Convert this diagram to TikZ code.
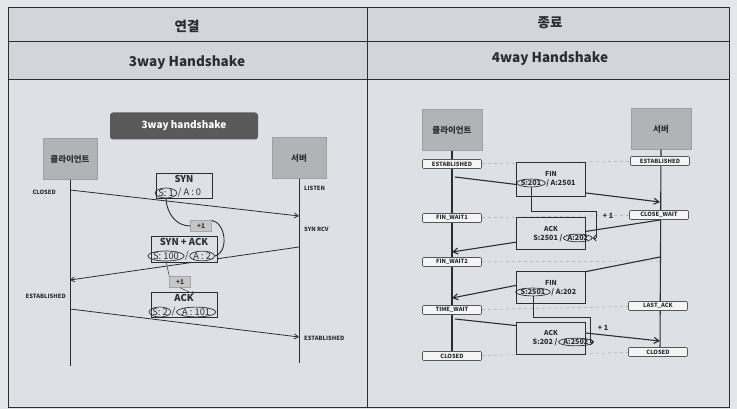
\documentclass[tikz,border=0pt]{standalone}
\usepackage{fontspec}
\setmainfont{Noto Sans CJK KR}
\usetikzlibrary{positioning,arrows.meta,shapes.geometric}

\definecolor{pagebg}{HTML}{E4E7EA}
\definecolor{headbg}{HTML}{D2D6DA}
\definecolor{bodybg}{HTML}{DDE1E5}
\definecolor{hostfill}{HTML}{B1B4B7}
\definecolor{ink}{HTML}{2B2D30}

\begin{document}
\begin{tikzpicture}[x=1pt, y=-1pt,
    grid/.style={draw=ink, line width=0.8pt},
    head/.style={font=\bfseries\fontsize{13.5}{15}\selectfont, text=ink},
    host/.style={draw=gray!75, fill=hostfill, minimum width=54pt, minimum height=41pt,
        font=\bfseries\fontsize{8.5}{9}\selectfont, text=ink},
    life/.style={draw=ink, line width=0.9pt},
    msg/.style={draw=ink, line width=0.8pt, fill=bodybg, inner sep=0pt},
    ttl/.style={font=\bfseries\fontsize{9.5}{10}\selectfont, text=ink, inner sep=0pt},
    seq/.style={font=\fontsize{9.3}{10}\selectfont, text=ink, inner sep=0.4pt},
    ell/.style={ellipse, draw=ink, line width=0.7pt, inner sep=0pt},
    plus/.style={draw=gray!70, fill=gray!45, minimum width=21pt, minimum height=11pt,
        inner sep=0pt, font=\bfseries\fontsize{6.5}{7}\selectfont, text=ink},
    lbl/.style={font=\bfseries\fontsize{5.8}{6}\selectfont, text=ink, inner sep=0pt},
    mv/.style={draw=ink, line width=0.8pt, -{Straight Barb[length=4pt,width=5pt]}},
    stbox/.style={draw=ink!80, fill=gray!8, rounded corners=1pt, line width=0.6pt,
        minimum width=59pt, minimum height=9pt, inner sep=0pt,
        font=\bfseries\fontsize{5.8}{6}\selectfont, text=ink},
    rmv/.style={draw=ink, line width=1.1pt, -{Straight Barb[length=5pt,width=6pt]}},
    rttl/.style={font=\bfseries\fontsize{6.8}{7}\selectfont, text=ink, inner sep=0pt},
    rseq/.style={font=\bfseries\fontsize{7.2}{8}\selectfont, text=ink, inner sep=0.4pt},
    hint/.style={draw=gray!70, dashed, line width=0.5pt},
    elb/.style={draw=ink, line width=0.9pt}]

    % table
    \fill[pagebg] (0,0) rectangle (737,409);
    \fill[headbg] (8,7) rectangle (729,79);
    \fill[bodybg] (8,79) rectangle (729,409);
    \draw[grid] (8,7) -- (729,7);
    \draw[grid] (8,41) -- (729,41);
    \draw[grid] (8,79) -- (729,79);
    \draw[grid] (8,7) -- (8,407) -- (729,407) -- (729,7);
    \draw[grid] (367,7) -- (367,407);
    \node[head] (h1) at (187,26) {연결};
    \node[head] (h2) at (550,23) {종료};
    \node[head] (h3) at (187,63) {3way Handshake};
    \node[head] (h4) at (550,59) {4way Handshake};

    % 3way handshake
    \node[fill=gray!70!black, rounded corners=3pt, minimum width=148pt, minimum height=27pt,
        font=\bfseries\fontsize{10}{11}\selectfont, text=white] (tag) at (184,126) {3way handshake};
    \node[host] (cli) at (70,159) {클라이언트};
    \node[host] (srv) at (299,158) {서버};
    \coordinate (cliend) at (70,366);
    \coordinate (srvend) at (299,363);
    \draw[life] (cli.south) -- (cliend);
    \draw[life] (srv.south) -- (srvend);

    \coordinate (m1a) at (70,190);  \coordinate (m1b) at (299,216);
    \coordinate (m2a) at (299,247); \coordinate (m2b) at (70,280);
    \coordinate (m3a) at (70,309);  \coordinate (m3b) at (299,337);
    \draw[mv] (m1a) -- (m1b);
    \draw[mv] (m2a) -- (m2b);
    \draw[mv] (m3a) -- (m3b);

    \node[lbl, anchor=east] (lclosed) at (56,192) {CLOSED};
    \node[lbl, anchor=west] (llisten) at (304,188) {LISTEN};
    \node[lbl, anchor=west] (lsynrcv) at (304,229) {SYN RCV};
    \node[lbl, anchor=east] (lestc) at (66,296) {ESTABLISHED};
    \node[lbl, anchor=west] (lests) at (304,338) {ESTABLISHED};

    \node[msg, minimum width=56pt, minimum height=25pt] (syn) at (184,186) {};
    \node[ttl] (synt) at (184,179) {SYN};
    \node[seq, ell] (s1) at (166,193) {S: 1};
    \node[seq, right=0pt of s1] (a0) {/ A : 0};

    \node[msg, minimum width=66pt, minimum height=26pt] (synack) at (184,249) {};
    \node[ttl] (synackt) at (184,242) {SYN + ACK};
    \node[seq, ell] (s100) at (166,256) {S: 100};
    \node[seq, right=0pt of s100] (sl2) {/};
    \node[seq, ell, right=0pt of sl2] (a2) {A : 2};

    \node[msg, minimum width=66pt, minimum height=25pt] (ack) at (184,305) {};
    \node[ttl] (ackt) at (184,298) {ACK};
    \node[seq, ell] (s2) at (160,312) {S: 2};
    \node[seq, right=0pt of s2] (sl3) {/};
    \node[seq, ell, right=0pt of sl3] (a101) {A : 101};

    \node[plus] (inc1) at (201,226) {+1};
    \node[plus] (inc2) at (180,282) {+1};
    \draw[ink, line width=0.9pt] (s1.south) .. controls (167,215) and (177,226) .. (inc1.west);
    \draw[ink, line width=0.9pt] (inc1.north east) .. controls (226,223) and (229,252) .. (a2.east);
    \draw[gray!60!black, line width=0.6pt] (s100.south) -- (inc2.north west);
    \draw[gray!60!black, line width=0.6pt, -{Straight Barb[length=2pt]}] (inc2.south) -- (ackt.north east);

    % 4way handshake
    \node[host, minimum width=60pt] (rcli) at (452,130) {클라이언트};
    \node[host, minimum width=60pt] (rsrv) at (661,129) {서버};
    \coordinate (rcliend) at (452,354);
    \coordinate (rsrvend) at (660,354);
    \coordinate (fw2end) at (660,261);
    \draw[life, line width=1.1pt] (rcli.south) -- (rcliend);
    \draw[life, line width=1.1pt] (rsrv.south) -- (rsrvend);

    \node[stbox] (cest) at (452,164) {ESTABLISHED};
    \node[stbox] (sest) at (660,161) {ESTABLISHED};
    \node[stbox] (fw1) at (452,218) {FIN\_WAIT1};
    \node[stbox] (cw) at (659,215) {CLOSE\_WAIT};
    \node[stbox] (fw2) at (452,262) {FIN\_WAIT2};
    \node[stbox] (tw) at (452,310) {TIME\_WAIT};
    \node[stbox] (la) at (658,306) {LAST\_ACK};
    \node[stbox] (ccl) at (452,356) {CLOSED};
    \node[stbox] (scl) at (658,352) {CLOSED};
    \draw[hint] (cest) -- (sest);
    \draw[hint] (fw1) -- (cw);
    \draw[hint] (fw2) -- (fw2end);
    \draw[hint] (tw) -- (la);
    \draw[hint] (ccl) -- (scl);

    \coordinate (r1a) at (455,177); \coordinate (r1b) at (660,202);
    \coordinate (r2a) at (660,220); \coordinate (r2b) at (452,252);
    \coordinate (r3a) at (660,257); \coordinate (r3b) at (452,298);
    \coordinate (r4a) at (455,319); \coordinate (r4b) at (660,341);
    \draw[rmv] (r1a) -- (r1b);
    \draw[rmv] (r2a) -- (r2b);
    \draw[rmv] (r3a) -- (r3b);
    \draw[rmv] (r4a) -- (r4b);

    \node[msg, minimum width=69pt, minimum height=34pt] (fin1) at (551,179) {};
    \node[rttl] (fin1t) at (551,174) {FIN};
    \node[rseq, ell] (s201) at (531,183) {S:201};
    \node[rseq, right=0pt of s201] (a2501) {/ A:2501};

    \node[msg, minimum width=69pt, minimum height=32pt] (ack1) at (551,233) {};
    \node[rttl] (ack1t) at (551,229) {ACK};
    \node[rseq, anchor=east] (s2501) at (563,238) {S:2501 /};
    \node[rseq, ell, right=0pt of s2501] (a202) {A:202};

    \node[msg, minimum width=69pt, minimum height=32pt] (fin2) at (551,287) {};
    \node[rttl] (fin2t) at (551,283) {FIN};
    \node[rseq, ell] (s2501b) at (533,292) {S:2501};
    \node[rseq, right=0pt of s2501b] (a202b) {/ A:202};

    \node[msg, minimum width=69pt, minimum height=32pt] (ack2) at (551,338) {};
    \node[rttl] (ack2t) at (551,333) {ACK};
    \node[rseq, anchor=east] (s202) at (558,342) {S:202 /};
    \node[rseq, ell, right=0pt of s202] (a2502) {A:2502};

    \coordinate (e1a) at (596,211); \coordinate (e1b) at (596,238);
    \coordinate (e2a) at (590,317); \coordinate (e2b) at (590,342);
    \draw[elb] (s201.south) |- (e1a) -- (e1b);
    \draw[elb, -{Straight Barb[length=3pt]}] (e1b) -- (a202.east);
    \draw[elb] (s2501b.south) |- (e2a) -- (e2b);
    \draw[elb, -{Straight Barb[length=3pt]}] (e2b) -- (a2502.east);
    \node[rseq] (inc3) at (608,216) {+ 1};
    \node[rseq] (inc4) at (603,328) {+ 1};
\end{tikzpicture}
\end{document}
